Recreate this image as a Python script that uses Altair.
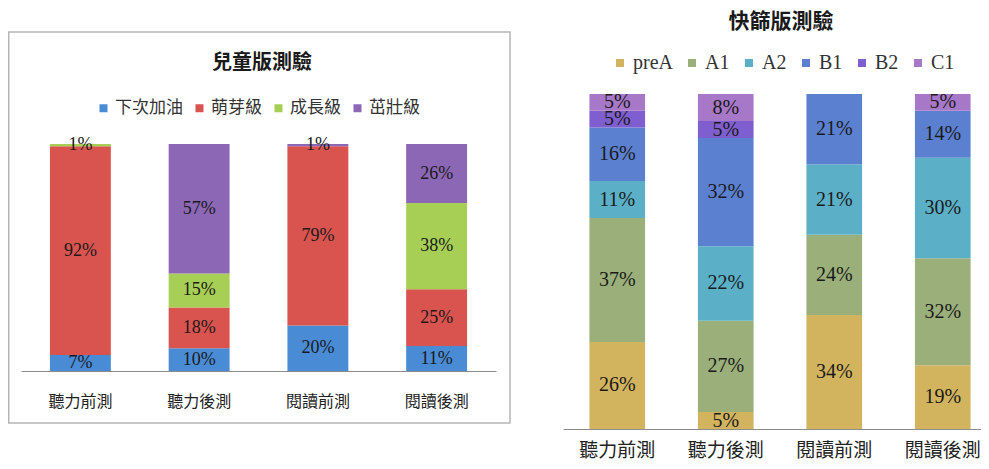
import altair as alt
import pandas as pd

# ---------------- data ----------------
tests = ["聽力前測", "聽力後測", "閱讀前測", "閱讀後測"]

left_title = "兒童版測驗"
left_levels = ["下次加油", "萌芽級", "成長級", "茁壯級"]
left_colors = ["#4A8BD6", "#D9534F", "#A7CF55", "#8B67B5"]
left_values = {
    "聽力前測": [7, 92, 1, 0],
    "聽力後測": [10, 18, 15, 57],
    "閱讀前測": [20, 79, 0, 1],
    "閱讀後測": [11, 25, 38, 26],
}

right_title = "快篩版測驗"
right_levels = ["preA", "A1", "A2", "B1", "B2", "C1"]
right_colors = ["#D2B45E", "#9AAF7A", "#5BB0C8", "#5C80D0", "#7F5FD0", "#A878C8"]
right_values = {
    "聽力前測": [26, 37, 11, 16, 5, 5],
    "聽力後測": [5, 27, 22, 32, 5, 8],
    "閱讀前測": [34, 24, 21, 21, 0, 0],
    "閱讀後測": [19, 32, 30, 14, 0, 5],
}


def make_df(values, levels):
    rows = []
    for t in tests:
        for i, (lev, v) in enumerate(zip(levels, values[t])):
            if v > 0:
                rows.append({"test": t, "level": lev, "o": i, "v": v})
    return pd.DataFrame(rows)


left_df = make_df(left_values, left_levels)
right_df = make_df(right_values, right_levels)

W, H = 973, 453
CJK = "Noto Sans CJK TC"
SERIF = "Liberation Serif"


def panel(df, levels, colors, xrange, yrange, axis_offset, axis_font, label_pad,
          text_size, legend_x, legend_y, legend_font, legend_label_font, col_pad):
    base = alt.Chart(df).transform_stack(
        stack="v", groupby=["test"], as_=["y0", "y1"], offset="normalize",
        sort=[alt.SortField("o", order="ascending")]
    ).transform_calculate(
        mid="(datum.y0 + datum.y1) / 2", lab="datum.v + '%'"
    )
    xenc = alt.X(
        "test:N", sort=tests, title=None,
        scale=alt.Scale(range=xrange, paddingInner=0.487, paddingOuter=0.2435),
        axis=alt.Axis(orient="bottom", offset=axis_offset, labelAngle=0, ticks=False,
                      tickSize=0, labelPadding=label_pad, labelFont=CJK,
                      labelFontSize=axis_font, labelColor="#222222",
                      domainColor="#8c8c8c", domainWidth=1.2, grid=False),
    )
    yscale = alt.Scale(domain=[0, 1], range=yrange, nice=False, zero=False)
    bars = base.mark_bar().encode(
        x=xenc,
        y=alt.Y("y0:Q", scale=yscale, axis=None),
        y2="y1:Q",
        color=alt.Color(
            "level:N", sort=levels,
            scale=alt.Scale(domain=levels, range=colors),
            legend=alt.Legend(
                orient="none", legendX=legend_x, legendY=legend_y,
                direction="horizontal", title=None, symbolType="square",
                symbolSize=64, symbolStrokeWidth=0, labelFont=legend_label_font,
                labelFontSize=legend_font, labelColor="#333333", labelOffset=3,
                columnPadding=col_pad, padding=0,
            ),
        ),
    )
    texts = base.mark_text(font=SERIF, fontSize=text_size, color="#1a1a1a",
                           baseline="middle").encode(
        x=alt.X("test:N", sort=tests),
        y=alt.Y("mid:Q", scale=yscale, axis=None),
        text="lab:N",
    )
    return alt.layer(bars, texts)


left = panel(left_df, left_levels, left_colors, [13, 488], [363, 136], 363 - H,
             16, 22, 18, 87, 91.5, 17, CJK, 8)
right = panel(right_df, right_levels, right_colors, [555, 989], [421, 86], 421 - H,
              19, 12, 20, 602, 45, 20, SERIF, 9)

border = alt.Chart(pd.DataFrame({"k": [0]})).mark_rect(
    fillOpacity=0, stroke="#b5b5b5", strokeWidth=1.5
).encode(x=alt.value(0.75), x2=alt.value(502), y=alt.value(24), y2=alt.value(415))

t_left = alt.Chart(pd.DataFrame({"t": [left_title]})).mark_text(
    font=CJK, fontSize=20, fontWeight="bold", color="#1a1a1a", baseline="middle"
).encode(x=alt.value(254), y=alt.value(55), text="t:N")

t_right = alt.Chart(pd.DataFrame({"t": [right_title]})).mark_text(
    font=CJK, fontSize=21, fontWeight="bold", color="#1a1a1a", baseline="middle"
).encode(x=alt.value(773), y=alt.value(14), text="t:N")

chart = alt.layer(border, t_left, t_right, left, right).resolve_scale(
    x="independent", y="independent", color="independent"
).resolve_axis(x="independent").resolve_legend(color="independent").properties(
    width=W, height=H, autosize=alt.AutoSizeParams(type="none"), padding=0,
    background="white"
).configure_view(stroke=None)

chart.save("out.html", embed_options={"renderer": "svg", "actions": False})
